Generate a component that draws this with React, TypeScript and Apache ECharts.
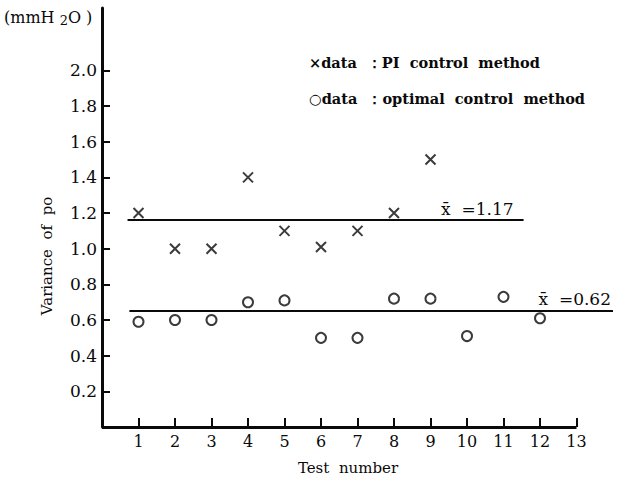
import React, { useEffect, useRef } from "react";
import * as echarts from "echarts";

const optTests = [1, 2, 3, 4, 5, 6, 7, 8, 9, 10, 11, 12];
const optValues = [0.59, 0.6, 0.6, 0.7, 0.71, 0.5, 0.5, 0.72, 0.72, 0.51, 0.73, 0.61];
const piTests = [1, 2, 3, 4, 5, 6, 7, 8, 9];
const piValues = [1.2, 1.0, 1.0, 1.4, 1.1, 1.01, 1.1, 1.2, 1.5];
const yTicks = [0.2, 0.4, 0.6, 0.8, 1.0, 1.2, 1.4, 1.6, 1.8, 2.0];
const xTicks = [1, 2, 3, 4, 5, 6, 7, 8, 9, 10, 11, 12, 13];
const piMeanLabel = "1.17";
const optMeanLabel = "0.62";
const piMeanLevel = 1.16;
const optMeanLevel = 0.65;
const piMeanSpan = [0.7, 11.55];
const optMeanSpan = [0.75, 14];
const xAxisSpan = [0, 13];

const FONT = "DejaVu Serif";
const INK = "#0a0a0a";

export default function App() {
  const ref = useRef<HTMLDivElement>(null);
  useEffect(() => {
    const chart = echarts.init(ref.current!, null, { renderer: "svg" });
    chart.setOption({
      animation: false,
      backgroundColor: "#fff",
      textStyle: { fontFamily: FONT, color: INK },
      grid: { left: 102, right: 8, top: 8, bottom: 56 },
      xAxis: {
        type: "value",
        min: 0,
        max: 14,
        interval: 1,
        splitLine: { show: false },
        axisLine: { show: false },
        axisTick: {
          show: true,
          inside: true,
          length: 9,
          customValues: xTicks,
          lineStyle: { color: INK, width: 2 },
        },
        axisLabel: {
          customValues: xTicks,
          margin: 6,
          fontFamily: FONT,
          fontSize: 16,
          color: INK,
        },
      },
      yAxis: {
        type: "value",
        min: 0,
        max: 2.35,
        splitLine: { show: false },
        axisLine: { show: true, lineStyle: { color: INK, width: 3 } },
        axisTick: {
          show: true,
          inside: true,
          length: 8,
          customValues: yTicks,
          lineStyle: { color: INK, width: 2 },
        },
        axisLabel: {
          customValues: yTicks,
          margin: 5,
          fontFamily: FONT,
          fontSize: 17,
          color: INK,
          formatter: (v: number) => v.toFixed(1),
        },
      },
      series: [
        {
          type: "scatter",
          name: "PI control method",
          data: piTests.map((t, i) => [t, piValues[i]]),
          symbol: "path://M0,0L10,10M10,0L0,10",
          symbolSize: 10,
          itemStyle: { color: "none", borderColor: INK, borderWidth: 2 },
          markLine: {
            symbol: "none",
            silent: true,
            lineStyle: { color: INK, width: 2, type: "solid" },
            label: { show: false },
            data: [
              [
                { coord: [piMeanSpan[0], piMeanLevel] },
                { coord: [piMeanSpan[1], piMeanLevel] },
              ],
              [
                { coord: [xAxisSpan[0], 0], lineStyle: { width: 3 } },
                { coord: [xAxisSpan[1], 0] },
              ],
            ],
          },
        },
        {
          type: "scatter",
          name: "optimal control method",
          data: optTests.map((t, i) => [t, optValues[i]]),
          symbol: "circle",
          symbolSize: 10,
          itemStyle: { color: "none", borderColor: INK, borderWidth: 2 },
          markLine: {
            symbol: "none",
            silent: true,
            lineStyle: { color: INK, width: 2, type: "solid" },
            label: { show: false },
            data: [
              [
                { coord: [optMeanSpan[0], optMeanLevel] },
                { coord: [optMeanSpan[1], optMeanLevel] },
              ],
            ],
          },
        },
      ],
    });

    const [lx1, ly1] = chart.convertToPixel({ gridIndex: 0 }, [piMeanSpan[1], piMeanLevel]) as number[];
    const [lx2, ly2] = chart.convertToPixel({ gridIndex: 0 }, [optMeanSpan[1], optMeanLevel]) as number[];

    chart.setOption({
      graphic: [
        {
          type: "text",
          left: 4,
          top: 7,
          style: {
            text: "{a|(mmH }{s|2}{a|O )}",
            rich: {
              a: { fontFamily: FONT, fontSize: 16, fill: INK, lineHeight: 20 },
              s: { fontFamily: FONT, fontSize: 13, fill: INK, padding: [7, 0, 0, 0], lineHeight: 20 },
            },
          },
        },
        {
          type: "text",
          x: 47,
          y: 256,
          rotation: Math.PI / 2,
          style: {
            text: "Variance  of  po",
            fontFamily: FONT,
            fontSize: 15,
            fill: INK,
            align: "center",
            verticalAlign: "middle",
          },
        },
        {
          type: "text",
          x: 348,
          y: 468,
          style: {
            text: "Test  number",
            fontFamily: FONT,
            fontSize: 15,
            fill: INK,
            align: "center",
            verticalAlign: "middle",
          },
        },
        {
          type: "text",
          x: 309,
          y: 62,
          style: {
            text: "×data  ：PI  control  method",
            fontFamily: FONT,
            fontSize: 14.5,
            fontWeight: "bold",
            fill: INK,
            verticalAlign: "middle",
          },
        },
        {
          type: "text",
          x: 309,
          y: 98,
          style: {
            text: "○data  ：optimal  control  method",
            fontFamily: FONT,
            fontSize: 14.5,
            fontWeight: "bold",
            fill: INK,
            verticalAlign: "middle",
          },
        },
        {
          type: "text",
          x: lx1 - 10,
          y: ly1 - 11,
          style: {
            text: "x\u0304  =" + piMeanLabel,
            fontFamily: FONT,
            fontSize: 17,
            fill: INK,
            align: "right",
            verticalAlign: "middle",
          },
        },
        {
          type: "text",
          x: lx2 - 2,
          y: ly2 - 12,
          style: {
            text: "x\u0304  =" + optMeanLabel,
            fontFamily: FONT,
            fontSize: 17,
            fill: INK,
            align: "right",
            verticalAlign: "middle",
          },
        },
      ],
    });

    return () => chart.dispose();
  }, []);
  return <div ref={ref} style={{ width: 621, height: 483, position: "absolute", left: 0, top: 0 }} />;
}
